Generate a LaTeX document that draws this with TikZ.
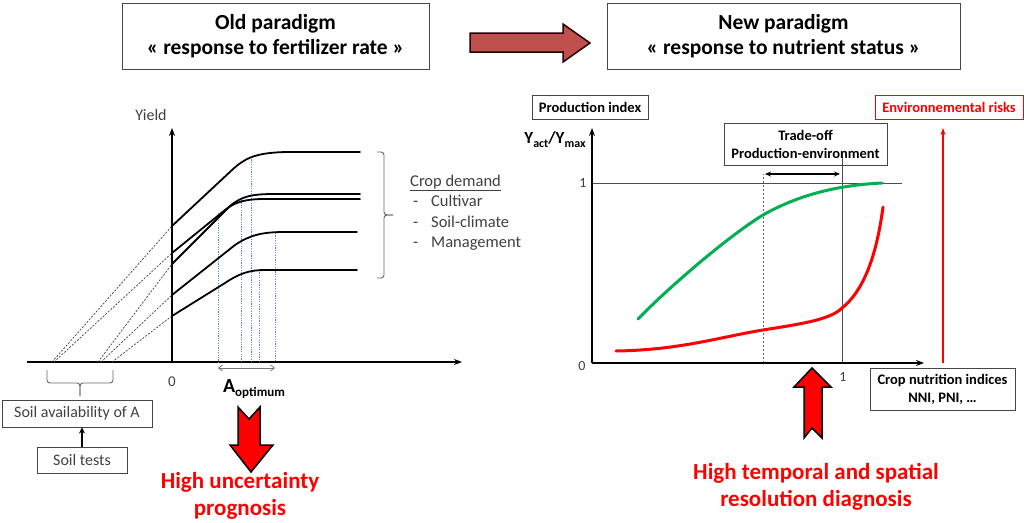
\documentclass[tikz,border=0pt]{standalone}
\usepackage{fontspec}
\setmainfont{Carlito}
\usetikzlibrary{arrows.meta}
\definecolor{boxgray}{RGB}{70,70,70}
\definecolor{titlered}{RGB}{192,80,77}
\definecolor{dotblue}{RGB}{80,140,210}
\definecolor{pgreen}{RGB}{0,176,80}
\definecolor{pred}{RGB}{255,0,0}
\definecolor{txtgray}{RGB}{64,64,64}
\begin{document}
\begin{tikzpicture}[x=1pt,y=-1pt,
  box/.style={draw=boxgray, line width=0.9pt, inner sep=0pt, align=center},
  titlebox/.style={box, font=\fontsize{21.5}{25}\selectfont\bfseries},
  smallbox/.style={box, font=\fontsize{14.5}{18}\selectfont\bfseries},
  soilbox/.style={box, font=\fontsize{16}{19}\selectfont, text=txtgray},
  curve/.style={line width=1.8pt, line cap=round},
  dashext/.style={draw=black!75, line width=0.7pt, dash pattern=on 2pt off 1.5pt},
  optline/.style={draw=dotblue, line width=1pt, dash pattern=on 1.2pt off 1.2pt},
  axis/.style={line width=2pt, -{Stealth[length=8pt,width=6pt]}},
  thin/.style={draw=black!70, line width=0.8pt},
  blockarrow/.style={fill=pred, draw=black, line width=1.5pt, line join=miter},
  redtext/.style={text=pred, font=\fontsize{23}{27}\selectfont\bfseries, align=center},
  lbl/.style={font=\fontsize{16}{19}\selectfont, text=txtgray, inner sep=0pt}
]
\useasboundingbox (0,0) rectangle (1024,522);

% ---- titles ----
\node[titlebox, minimum width=307pt, minimum height=66pt] (old) at (275.5,36) {Old paradigm\\« response to fertilizer rate »};
\node[titlebox, minimum width=353pt, minimum height=66pt] (new) at (783.5,36) {New paradigm\\« response to nutrient status »};
\draw[fill=titlered, draw=black!85!red, line width=1.5pt, line join=miter]
  (470,33) -- (563,33) -- (563,24) -- (590,43) -- (563,62) -- (563,52) -- (470,52) -- cycle;

% ---- left chart ----
\coordinate (O1) at (172,362);
\coordinate (Ytop1) at (172,128);
\coordinate (Xl1) at (27,362);
\coordinate (Xr1) at (462,362);
\draw[axis] (O1) -- (Ytop1);
\draw[axis] (Xl1) -- (Xr1);
\node[lbl] (yield) at (151,115) {Yield};
\node[lbl, font=\fontsize{15}{18}\selectfont] (zero1) at (172,382) {0};

% dashed extrapolations
\draw[dashext] (52,362) -- (172,226);
\draw[dashext] (54,362) -- (172,253);
\draw[dashext] (98,362) -- (172,264);
\draw[dashext] (101,362) -- (172,295);
\draw[dashext] (112,362) -- (172,316);

% optimum lines
\draw[optline] (218,213) -- (218,362);
\draw[optline] (241,200) -- (241,362);
\draw[optline] (251,157) -- (251,362);
\draw[optline] (259,270) -- (259,362);
\draw[optline] (275,233) -- (275,362);

% response curves
\draw[curve] (172,226) -- (232,170) .. controls (245,158) and (255,153) .. (285,152) -- (360,152);
\draw[curve] (172,253) -- (225,210) .. controls (235,202) and (245,199) .. (265,199) -- (360,199);
\draw[curve] (172,264) -- (230,206) .. controls (242,196) and (252,194) .. (275,194) -- (360,194);
\draw[curve] (172,295) -- (235,245) .. controls (250,235) and (262,232) .. (285,232) -- (357,232);
\draw[curve] (172,316) -- (225,283) .. controls (240,273) and (250,270) .. (265,270) -- (357,270);

% right brace
\draw[draw=black!60, line width=0.9pt, rounded corners=3pt]
  (377,152) -- (384,152) -- (384,215) -- (393,215);
\draw[draw=black!60, line width=0.9pt, rounded corners=3pt]
  (377,278) -- (384,278) -- (384,215) -- (393,215);
\node[lbl, anchor=west, align=left, font=\fontsize{16.5}{20.5}\selectfont] (demand) at (410,212.5)
  {\underline{Crop demand}\\\makebox[21pt][l]{\hspace{3pt}-}Cultivar\\\makebox[21pt][l]{\hspace{3pt}-}Soil-climate\\\makebox[21pt][l]{\hspace{3pt}-}Management};

% A optimum
\draw[draw=black!55, line width=0.7pt, {Straight Barb[length=4pt,width=6pt]}-{Straight Barb[length=4pt,width=6pt]}] (218,368) -- (275,368);
\node[inner sep=0pt, font=\bfseries] (aopt) at (254,389) {\fontsize{20}{24}\selectfont A\raisebox{-4pt}{\fontsize{13}{15}\selectfont optimum}};

% bottom brace + soil boxes
\draw[draw=black!60, line width=0.9pt, rounded corners=3pt]
  (47,370) -- (47,383) -- (80,383) -- (80,396);
\draw[draw=black!60, line width=0.9pt, rounded corners=3pt]
  (113,370) -- (113,383) -- (80,383) -- (80,396);
\node[soilbox, minimum width=150pt, minimum height=27pt] (avail) at (77,413.5) {Soil availability of A};
\node[soilbox, minimum width=90pt, minimum height=26pt] (tests) at (82,460) {Soil tests};
\draw[line width=1.5pt, -{Stealth[length=6pt,width=6pt]}] (tests.north) -- (tests.north |- avail.south);

% red down arrow
\draw[blockarrow] (238,407) -- (249,419) -- (260,407) -- (260,445) -- (273,445) -- (251,472) -- (230,445) -- (238,445) -- cycle;
\node[redtext] (uncert) at (240,496) {High uncertainty\\prognosis};

% ---- right chart ----
\node[smallbox, minimum width=116pt, minimum height=24pt] (prod) at (590,107) {Production index};
\node[smallbox, draw=pred, text=pred, minimum width=148pt, minimum height=24pt] (env) at (949,107) {Environnemental risks};
\coordinate (O2) at (592,363);
\coordinate (Ytop2) at (592,128);
\coordinate (Xr2) at (924,363);
\node[inner sep=0pt, font=\bfseries] (yratio) at (555,140)
  {\fontsize{17}{20}\selectfont Y\raisebox{-4pt}{\fontsize{12}{14}\selectfont act}/Y\raisebox{-4pt}{\fontsize{12}{14}\selectfont max}};
\draw[thin] (592,183) -- (902,183);
\draw[thin] (842,363) -- (842,153);
\draw[draw=black!60, line width=0.8pt, dash pattern=on 2pt off 2pt] (763,363) -- (763,174);
\node[smallbox, minimum width=163pt, minimum height=42pt] (trade) at (805.5,144) {Trade-off\\Production-environment};
\draw[line width=1.5pt, {Stealth[length=6pt,width=5pt]}-{Stealth[length=6pt,width=5pt]}] (765,174) -- (840,174);
\draw[axis] (O2) -- (Ytop2);
\draw[axis] (O2) -- (Xr2);
\node[lbl, font=\fontsize{14}{17}\selectfont] (one1) at (583,183) {1};
\node[lbl, font=\fontsize{14}{17}\selectfont] (zero2) at (582,366) {0};
\node[lbl, font=\fontsize{14}{17}\selectfont] (one2) at (843,377) {1};

\draw[draw=pgreen, line width=3pt, line cap=round]
  (638,319) .. controls (670,286) and (730,235) .. (763,215) .. controls (800,194) and (840,185) .. (882,183);
\draw[draw=pred, line width=3pt, line cap=round]
  (616,351) .. controls (680,350) and (720,337) .. (763,330) .. controls (800,324) and (830,320) .. (842,308)
  .. controls (862,292) and (876,260) .. (883,207);

\draw[draw=pred, line width=1.2pt, -{Stealth[length=7pt,width=5pt]}] (943,363) -- (943,128);
\node[smallbox, minimum width=145pt, minimum height=42pt] (nutr) at (942.5,389) {Crop nutrition indices\\NNI, PNI, …};

% red up arrow
\draw[blockarrow] (812,368) -- (831,387) -- (822,387) -- (822,438) -- (812,428) -- (804,438) -- (804,387) -- (794,387) -- cycle;
\node[redtext] (diag) at (816,487) {High temporal and spatial\\resolution diagnosis};
\end{tikzpicture}
\end{document}
